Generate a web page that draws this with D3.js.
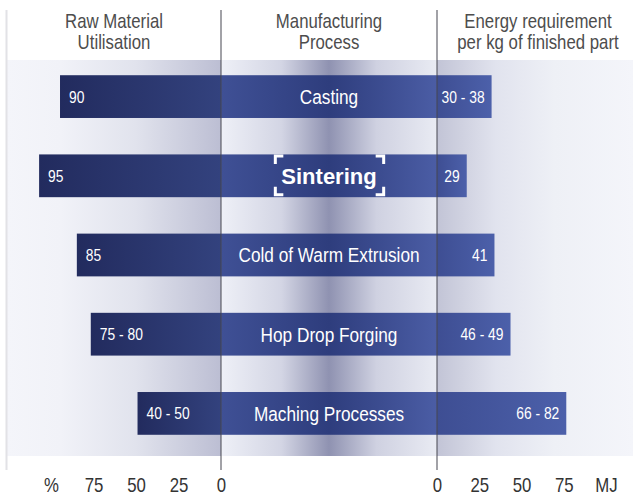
<!DOCTYPE html>
<html>
<head>
<meta charset="utf-8">
<script src="https://cdn.jsdelivr.net/npm/d3@7"></script>
<style>
  html, body { margin: 0; padding: 0; background: #ffffff; }
  svg { display: block; font-family: "Liberation Sans", Arial, Helvetica, sans-serif; }
</style>
</head>
<body>
<svg id="chart" width="633" height="497"></svg>
<script>
// ---- data ----
const processes = ["Casting", "Sintering", "Cold of Warm Extrusion", "Hop Drop Forging", "Maching Processes"];
const utilisationLabels = ["90", "95", "85", "75 - 80", "40 - 50"];
const energyLabels = ["30 - 38", "29", "41", "46 - 49", "66 - 82"];
// bar extents, in axis units
const utilisationBar = [94.7, 107, 84.8, 76.6, 49.1];
const energyBar = [32.3, 17.6, 34, 43.5, 76.5];
const utilisationTicks = [100, 75, 50, 25, 0];
const energyTicks = [0, 25, 50, 75, 100];
const highlighted = "Sintering";

const rows = processes.map((p, i) => ({
  process: p, uLabel: utilisationLabels[i], eLabel: energyLabels[i],
  u: utilisationBar[i], e: energyBar[i]
}));

const SX = 0.84; // condensed look

const svg = d3.select("#chart");
const defs = svg.append("defs");

function grad(id, stops) {
  const g = defs.append("linearGradient").attr("id", id)
    .attr("x1", "0%").attr("x2", "100%").attr("y1", "0%").attr("y2", "0%");
  stops.forEach(([o, c]) => g.append("stop").attr("offset", o).attr("stop-color", c));
}
grad("bgLeft", [["0%", "#f4f5fa"], ["25%", "#f1f2f8"], ["60%", "#e1e3ed"], ["100%", "#bcbed3"]]);
grad("bgMid", [["0%", "#eef0f7"], ["28%", "#d3d5e4"], ["50%", "#8f92b1"], ["72%", "#cfd1e1"], ["100%", "#e9ebf3"]]);
grad("bgRight", [["0%", "#c2c4d6"], ["30%", "#e1e3ee"], ["60%", "#eef0f6"], ["100%", "#f4f5fa"]]);
grad("barLeft", [["0%", "#222b5e"], ["100%", "#33427e"]]);
grad("barMid", [["0%", "#3f5095"], ["50%", "#2e3d7d"], ["100%", "#4b5da5"]]);
grad("barRight", [["0%", "#3e4e93"], ["100%", "#4c60aa"]]);

// ---- scales ----
const xL = d3.scaleLinear().domain([0, 100]).range([221, 51]);
const xR = d3.scaleLinear().domain([0, 100]).range([437, 606]);
const y = d3.scaleBand().domain(processes).range([57, 453]).paddingInner(0.46).paddingOuter(0.23);

const bandTop = 60, bandBottom = 456, leftEdge = 7, rightEdge = 633;

// ---- background band ----
svg.append("rect").attr("x", leftEdge).attr("y", bandTop)
  .attr("width", xL(0) - leftEdge).attr("height", bandBottom - bandTop).attr("fill", "url(#bgLeft)");
svg.append("rect").attr("x", xL(0)).attr("y", bandTop)
  .attr("width", xR(0) - xL(0)).attr("height", bandBottom - bandTop).attr("fill", "url(#bgMid)");
svg.append("rect").attr("x", xR(0)).attr("y", bandTop)
  .attr("width", rightEdge - xR(0)).attr("height", bandBottom - bandTop).attr("fill", "url(#bgRight)");

// ---- bars ----
const g = svg.append("g");
const row = g.selectAll("g.row").data(rows).join("g").attr("class", "row");

row.append("rect")
  .attr("x", d => xL(d.u)).attr("y", d => y(d.process))
  .attr("width", d => xL(0) - xL(d.u)).attr("height", y.bandwidth())
  .attr("fill", "url(#barLeft)");
row.append("rect")
  .attr("x", xL(0)).attr("y", d => y(d.process))
  .attr("width", xR(0) - xL(0)).attr("height", y.bandwidth())
  .attr("fill", "url(#barMid)");
row.append("rect")
  .attr("x", xR(0)).attr("y", d => y(d.process))
  .attr("width", d => xR(d.e) - xR(0)).attr("height", y.bandwidth())
  .attr("fill", "url(#barRight)");

const cy = d => y(d.process) + y.bandwidth() / 2;

// value labels
row.append("text")
  .attr("transform", d => `translate(${xL(d.u) + 9},${cy(d)}) scale(${SX},1)`)
  .attr("dy", "0.36em").attr("fill", "#ffffff").attr("font-size", 16.5)
  .text(d => d.uLabel);
row.append("text")
  .attr("transform", d => `translate(${xR(d.e) - 7},${cy(d)}) scale(${SX},1)`)
  .attr("dy", "0.36em").attr("text-anchor", "end").attr("fill", "#ffffff").attr("font-size", 16.5)
  .text(d => d.eLabel);

// process labels
const midX = (xL(0) + xR(0)) / 2;
row.append("text")
  .attr("transform", d => `translate(${midX},${cy(d)}) scale(${d.process === highlighted ? 1 : SX},1)`)
  .attr("dy", "0.36em").attr("text-anchor", "middle").attr("fill", "#ffffff")
  .attr("font-size", d => d.process === highlighted ? 22 : 20.5)
  .attr("font-weight", d => d.process === highlighted ? "bold" : "normal")
  .attr("class", d => d.process === highlighted ? "hl" : null)
  .text(d => d.process);

// brackets around highlighted label
const hl = svg.select("text.hl");
if (!hl.empty()) {
  const bb = hl.node().getBBox();
  const d0 = hl.datum();
  const x0 = midX + bb.x - 6, x1 = midX + bb.x + bb.width + 7;
  const y0 = y(d0.process) + 1.5, y1 = y(d0.process) + y.bandwidth() - 2.5;
  const arm = 8;
  const path = [
    `M${x0},${y0 + arm}V${y0}H${x0 + arm}`,
    `M${x1 - arm},${y0}H${x1}V${y0 + arm}`,
    `M${x0},${y1 - arm}V${y1}H${x0 + arm}`,
    `M${x1 - arm},${y1}H${x1}V${y1 - arm}`
  ].join("");
  svg.append("path").attr("d", path).attr("fill", "none")
    .attr("stroke", "#ffffff").attr("stroke-width", 3);
}

// ---- vertical lines ----
const lineTop = 10, lineBottom = 470;
svg.append("line").attr("x1", leftEdge - 0.5).attr("x2", leftEdge - 0.5)
  .attr("y1", lineTop).attr("y2", lineBottom)
  .attr("stroke", "#e2e2e6").attr("stroke-width", 2);
[xL(0), xR(0)].forEach(x => {
  svg.append("line").attr("x1", x).attr("x2", x)
    .attr("y1", lineTop).attr("y2", lineBottom)
    .attr("stroke", "rgba(70,70,80,0.5)").attr("stroke-width", 2);
});

// ---- headers ----
const headers = [
  { x: 114, lines: ["Raw Material", "Utilisation"] },
  { x: midX, lines: ["Manufacturing", "Process"] },
  { x: (xR(0) + rightEdge) / 2 + 3, lines: ["Energy requirement", "per kg of finished part"] }
];
headers.forEach(h => {
  h.lines.forEach((l, i) => {
    svg.append("text")
      .attr("transform", `translate(${h.x},${28 + i * 20.5}) scale(${SX},1)`)
      .attr("text-anchor", "middle").attr("fill", "#4d4d4d").attr("font-size", 20)
      .text(l);
  });
});

// ---- bottom axes ----
const axisL = d3.axisBottom(xL).tickValues(utilisationTicks).tickSize(0).tickPadding(0)
  .tickFormat(d => d === 100 ? "%" : d);
const axisR = d3.axisBottom(xR).tickValues(energyTicks).tickSize(0).tickPadding(0)
  .tickFormat(d => d === 100 ? "MJ" : d);
[axisL, axisR].forEach(a => {
  const ag = svg.append("g").attr("transform", "translate(0,478)").call(a);
  ag.select(".domain").remove();
  ag.selectAll("text").attr("fill", "#333333").attr("font-size", 20)
    .attr("transform", `scale(${SX},1)`)
    .style("font-family", "'Liberation Sans', Arial, sans-serif");
});
</script>
</body>
</html>
